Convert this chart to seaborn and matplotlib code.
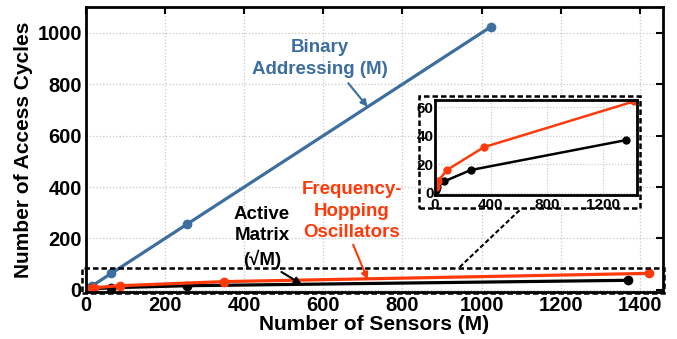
import matplotlib
matplotlib.use("Agg")
import matplotlib.pyplot as plt
import seaborn as sns
import pandas as pd
from matplotlib.patches import Rectangle
from matplotlib.lines import Line2D

# ---- data ----
binary_m = [4, 16, 64, 256, 1024]
binary_cycles = [4, 16, 64, 256, 1024]
active_m = [4, 16, 64, 256, 1369]
active_cycles = [2, 4, 8, 16, 37]
fho_m = [5, 20, 85, 350, 1422]
fho_cycles = [4, 8, 16, 32, 64]

x_ticks = [0, 200, 400, 600, 800, 1000, 1200, 1400]
y_ticks = [0, 200, 400, 600, 800, 1000]
inset_x_ticks = [0, 400, 800, 1200]
inset_y_ticks = [0, 20, 40, 60]

BLUE = "#3C6E9F"
RED = "#FF3A0A"
BLACK = "#000000"

sns.set_style("white")
plt.rcParams["font.family"] = ["Liberation Sans", "DejaVu Sans"]
plt.rcParams["font.weight"] = "bold"
for k in ["text.color", "axes.labelcolor", "xtick.color", "ytick.color"]:
    plt.rcParams[k] = "black"

df = pd.concat([
    pd.DataFrame({"M": binary_m, "cycles": binary_cycles, "s": "binary"}),
    pd.DataFrame({"M": active_m, "cycles": active_cycles, "s": "active"}),
    pd.DataFrame({"M": fho_m, "cycles": fho_cycles, "s": "fho"}),
])
palette = {"binary": BLUE, "active": BLACK, "fho": RED}

fig = plt.figure(figsize=(6.77, 3.39), dpi=100)
ax = fig.add_axes([0.127, 0.139, 0.852, 0.840])

def draw(a, data, lw, ms):
    sns.lineplot(data=data, x="M", y="cycles", hue="s", palette=palette,
                 marker="o", markersize=ms, markeredgewidth=0, linewidth=lw,
                 legend=False, ax=a, sort=False)

draw(ax, df, 2.3, 7)
ax.set_xlim(0, 1458)
ax.set_ylim(-8, 1100)
ax.set_xticks(x_ticks)
ax.set_yticks(y_ticks)
ax.grid(True, linestyle=":", color="#c8c8c8", linewidth=0.9)
ax.tick_params(direction="in", top=True, right=True, length=5, width=1.5,
               labelsize=14.5, pad=3, colors="black")
for lab in ax.get_xticklabels() + ax.get_yticklabels():
    lab.set_fontweight("bold")
for sp in ax.spines.values():
    sp.set_linewidth(2)
    sp.set_color("black")
ax.set_xlabel("Number of Sensors (M)", fontsize=15, fontweight="bold", labelpad=0,
              color="black")
ax.set_ylabel("Number of Access Cycles", fontsize=15, fontweight="bold", labelpad=3,
              color="black")

# annotations
ax.annotate("Binary\nAddressing (M)", xy=(712, 712), xytext=(590, 900),
            color=BLUE, fontsize=13.5, fontweight="bold", ha="center", va="center",
            linespacing=1.35,
            arrowprops=dict(arrowstyle="-|>", color=BLUE, lw=1.5, mutation_scale=10,
                            shrinkA=2, shrinkB=0, relpos=(0.68, 0.0)))
ax.annotate("Active\nMatrix\n(√M)", xy=(545, 22), xytext=(445, 205),
            color=BLACK, fontsize=13.5, fontweight="bold", ha="center", va="center",
            linespacing=1.35,
            arrowprops=dict(arrowstyle="-|>", color=BLACK, lw=1.5, mutation_scale=10,
                            shrinkA=0, shrinkB=0, relpos=(0.75, 0.0)))
ax.annotate("Frequency-\nHopping\nOscillators", xy=(712, 40), xytext=(672, 305),
            color=RED, fontsize=13.5, fontweight="bold", ha="center", va="center",
            linespacing=1.35,
            arrowprops=dict(arrowstyle="-|>", color=RED, lw=1.5, mutation_scale=10,
                            shrinkA=0, shrinkB=0, relpos=(0.5, 0.0)))

# dashed box in main axes
ax.add_patch(Rectangle((-10, -12), 1472, 95, fill=False, linestyle=(0, (2.2, 1.2)),
                       linewidth=1.8, edgecolor="black", clip_on=False, zorder=5))

# inset (without binary addressing)
axi = fig.add_axes([0.6425, 0.425, 0.2984, 0.280])
draw(axi, df[df["s"] != "binary"], 1.8, 6)
axi.set_xlim(0, 1445)
axi.set_ylim(-1.4, 65)
axi.set_xticks(inset_x_ticks)
axi.set_yticks(inset_y_ticks)
axi.set_xlabel("")
axi.set_ylabel("")
axi.grid(True, linestyle=":", color="#c8c8c8", linewidth=0.8)
axi.tick_params(direction="in", length=0, labelsize=11, colors="black")
axi.tick_params(axis="x", pad=2)
axi.tick_params(axis="y", pad=1)
for lab in axi.get_xticklabels() + axi.get_yticklabels():
    lab.set_fontweight("bold")
for sp in axi.spines.values():
    sp.set_linewidth(2)
    sp.set_color("black")

# dashed box around inset and connector
fig.patches.append(Rectangle((0.619, 0.386), 0.327, 0.330, transform=fig.transFigure,
                             fill=False, linestyle=(0, (2.2, 1.2)), linewidth=1.8,
                             edgecolor="black", zorder=5))
fig.lines.append(Line2D([0.679, 0.768], [0.212, 0.381], transform=fig.transFigure,
                        color="black", linestyle=(0, (2.2, 1.2)), linewidth=1.5))

fig.savefig("out.png", dpi=100)
